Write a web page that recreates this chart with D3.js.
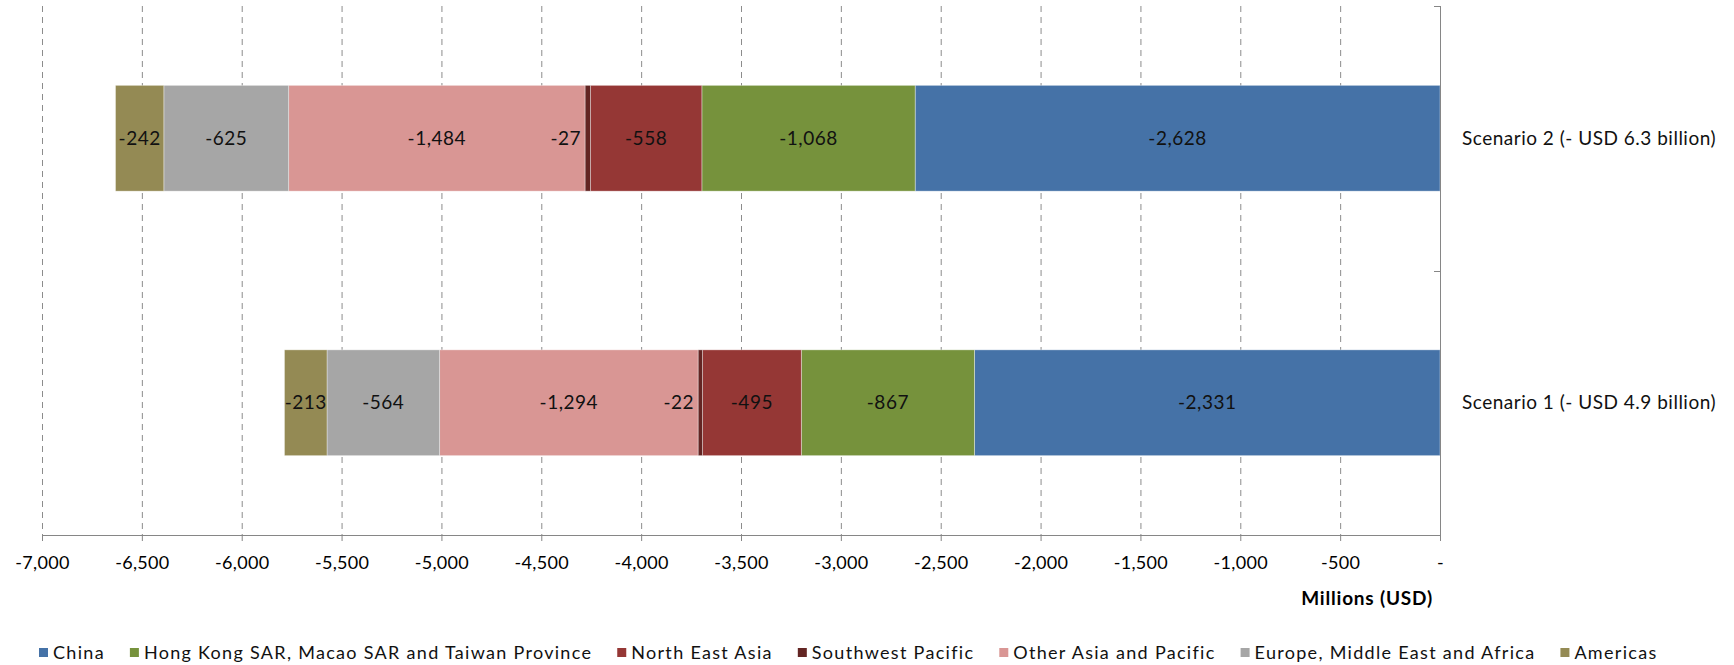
<!DOCTYPE html>
<html>
<head>
<meta charset="utf-8">
<script src="https://cdn.jsdelivr.net/npm/d3@7"></script>
<style>
  html, body { margin: 0; padding: 0; background: #fff; }
  svg { display: block; font-family: Lato, "Open Sans", sans-serif; }
</style>
</head>
<body>
<svg id="chart" width="1734" height="665"></svg>
<script>
// Scenario rows, top to bottom
const scenarios = ["Scenario 2 (- USD 6.3 billion)", "Scenario 1 (- USD 4.9 billion)"];

// Regions, stacked from zero outwards
const regions = [
  "China",
  "Hong Kong SAR, Macao SAR and Taiwan Province",
  "North East Asia",
  "Southwest Pacific",
  "Other Asia and Pacific",
  "Europe, Middle East and Africa",
  "Americas"
];

// Values in millions of USD, per region, for [Scenario 2, Scenario 1]
const china      = [-2628, -2331];
const hongKong   = [-1068, -867];
const northEast  = [-558, -495];
const southwest  = [-27, -22];
const otherAsia  = [-1484, -1294];
const europe     = [-625, -564];
const americas   = [-242, -213];

const xTicks = [-7000, -6500, -6000, -5500, -5000, -4500, -4000, -3500, -3000, -2500, -2000, -1500, -1000, -500, 0];

const colors = ["#4572A7", "#76923C", "#953735", "#632523", "#D99694", "#A6A6A6", "#948A54"];

const seriesValues = [china, hongKong, northEast, southwest, otherAsia, europe, americas];
const rows = scenarios.map((s, i) => {
  const r = { scenario: s };
  regions.forEach((reg, j) => { r[reg] = seriesValues[j][i]; });
  return r;
});

const svg = d3.select("#chart");
const plot = { left: 42, right: 1440, top: 6, bottom: 535 };

const x = d3.scaleLinear().domain([-7000, 0]).range([plot.left, plot.right]);
const y = d3.scaleBand().domain(scenarios).range([plot.top, plot.bottom])
  .paddingInner(0.6).paddingOuter(0.3);
const yBands = d3.scaleBand().domain(scenarios).range([plot.top, plot.bottom]);
const color = d3.scaleOrdinal().domain(regions).range(colors);

// plain hyphen for negatives
const locale = d3.formatLocale({ decimal: ".", thousands: ",", grouping: [3], currency: ["$", ""], minus: "-" });
const fmt = locale.format(",");

// dashed vertical gridlines
svg.append("g").selectAll("line")
  .data(xTicks.filter(t => t !== 0))
  .join("line")
  .attr("x1", d => x(d) + 0.5).attr("x2", d => x(d) + 0.5)
  .attr("y1", plot.top).attr("y2", plot.bottom)
  .attr("stroke", "#8c8c8c").attr("stroke-width", 1)
  .attr("stroke-dasharray", "6,5");

// stacked bars
const stack = d3.stack().keys(regions).offset(d3.stackOffsetDiverging);
const layers = stack(rows);

const bars = svg.append("g");
layers.forEach(layer => {
  bars.append("g").attr("fill", color(layer.key))
    .selectAll("rect")
    .data(layer)
    .join("rect")
    .attr("x", d => x(Math.min(d[0], d[1])))
    .attr("width", d => Math.abs(x(d[1]) - x(d[0])))
    .attr("y", d => y(d.data.scenario))
    .attr("height", y.bandwidth())
    .attr("stroke", "#ffffff").attr("stroke-opacity", 0.45).attr("stroke-width", 0.8);
});

// value labels
const labels = svg.append("g").attr("font-size", 19).attr("letter-spacing", 0.5).attr("fill", "#111");
layers.forEach(layer => {
  const narrow = layer.key === "Southwest Pacific";
  labels.append("g").selectAll("text")
    .data(layer)
    .join("text")
    .attr("x", d => narrow ? x(Math.min(d[0], d[1])) - 4 : (x(d[0]) + x(d[1])) / 2)
    .attr("y", d => y(d.data.scenario) + y.bandwidth() / 2)
    .attr("dy", "0.35em")
    .attr("text-anchor", narrow ? "end" : "middle")
    .text(d => fmt(d.data[layer.key]));
});

// bottom value axis
const xAxis = d3.axisBottom(x).tickValues(xTicks).tickSize(6).tickPadding(15)
  .tickFormat(d => d === 0 ? "-" : fmt(d));
const gx = svg.append("g").attr("transform", `translate(0,${plot.bottom})`).call(xAxis);
gx.select(".domain").attr("stroke", "#868686");
gx.selectAll(".tick line").attr("stroke", "#868686");
gx.selectAll(".tick text").attr("font-size", 18).attr("letter-spacing", 0.3).attr("fill", "#000")
  .attr("font-family", "Lato, 'Open Sans', sans-serif");

// category axis on the zero line
const gy = svg.append("g");
gy.append("line").attr("x1", plot.right + 0.5).attr("x2", plot.right + 0.5)
  .attr("y1", plot.top).attr("y2", plot.bottom).attr("stroke", "#868686");
const bandEdges = scenarios.map(s => yBands(s)).concat([plot.bottom]);
gy.selectAll("line.tick").data(bandEdges).join("line").attr("class", "tick")
  .attr("x1", plot.right - 6).attr("x2", plot.right)
  .attr("y1", d => Math.round(d) + 0.5).attr("y2", d => Math.round(d) + 0.5)
  .attr("stroke", "#868686");
gy.selectAll("text").data(scenarios).join("text")
  .attr("x", plot.right + 22)
  .attr("y", d => y(d) + y.bandwidth() / 2)
  .attr("dy", "0.35em")
  .attr("font-size", 19).attr("letter-spacing", 0.5).attr("fill", "#111")
  .text(d => d);

// axis title
svg.append("text")
  .attr("x", 1433).attr("y", 598).attr("dy", "0.35em")
  .attr("text-anchor", "end").attr("font-size", 19).attr("letter-spacing", 0.8).attr("font-weight", "bold")
  .text("Millions (USD)");

// legend
const legend = svg.append("g").attr("transform", "translate(39,653)");
let cursor = 0;
regions.forEach(reg => {
  const item = legend.append("g").attr("transform", `translate(${cursor},0)`);
  item.append("rect").attr("x", 0).attr("y", -5).attr("width", 9).attr("height", 9)
    .attr("fill", color(reg));
  const t = item.append("text").attr("x", 14).attr("dy", "0.35em")
    .attr("font-size", 18).attr("letter-spacing", 1.3).attr("fill", "#111").text(reg);
  cursor += 14 + t.node().getComputedTextLength() + 25;
});
</script>
</body>
</html>
